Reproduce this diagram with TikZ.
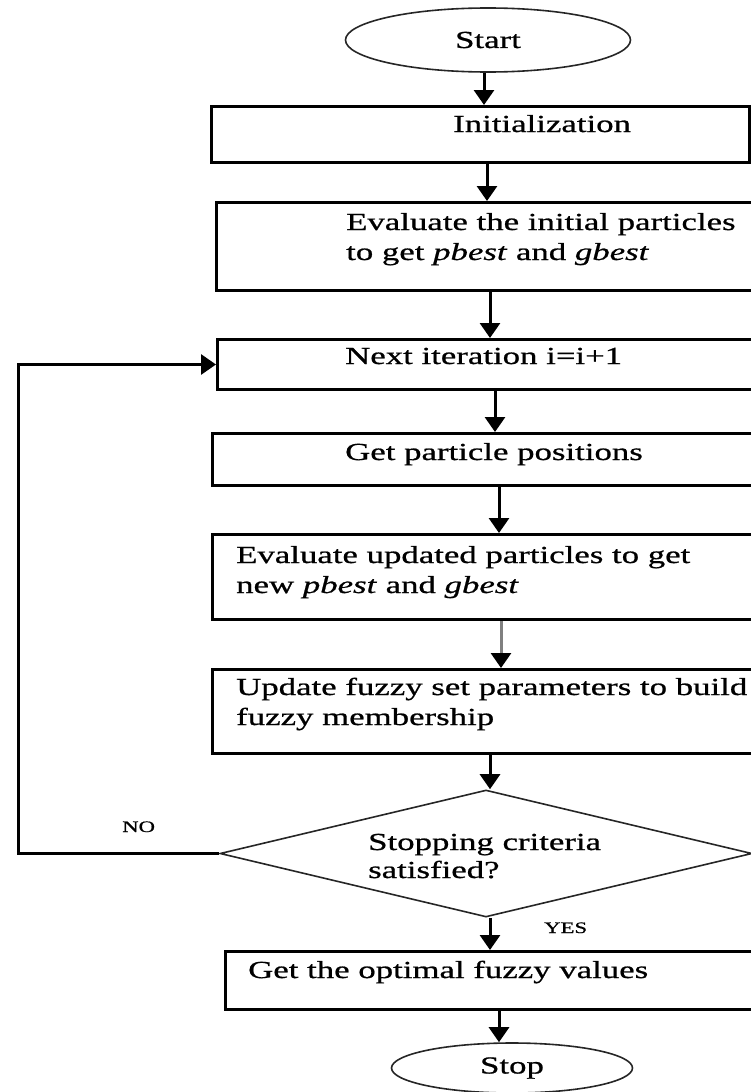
\documentclass[tikz,border=0pt]{standalone}
\usepackage{fontspec}
\setmainfont{Liberation Serif}[FakeStretch=1.42,FakeBold=0.8]
\usetikzlibrary{shapes.geometric,arrows.meta}
\tikzset{
  box/.style={draw, line width=3pt, rectangle, inner sep=0pt, anchor=north west},
  oval/.style={draw=black!85, line width=1.6pt, ellipse, inner sep=0pt, font=\fontsize{24.5}{30}\selectfont},
  dec/.style={draw=black!85, line width=1.6pt, diamond, inner sep=0pt},
  arr/.style={line width=3pt, -{Triangle[width=20pt,length=15pt]}},
  txt/.style={inner sep=0pt, anchor=base west, font=\fontsize{24.5}{30}\selectfont},
  txtd/.style={inner sep=0pt, anchor=base west, font=\fontsize{24.5}{28}\selectfont},
  lbl/.style={inner sep=0pt, anchor=base west, font=\fontsize{16}{18}\selectfont},
}
\newcommand\twoline[2]{\begin{tabular}[t]{@{}l@{}}#1\\#2\end{tabular}}
\begin{document}
\begin{tikzpicture}[x=1pt,y=-1pt]
\useasboundingbox (0,0) rectangle (751,1092);
\clip (0,0) rectangle (751,1092);
% shapes
\node[oval, minimum width=285pt, minimum height=64pt] (start) at (488,40) {Start};
\node[box, minimum width=538pt, minimum height=56pt] (init) at (210,105) {};
\node[txt] (tinit) at (453,132) {Initialization};
\node[box, minimum width=560pt, minimum height=88pt] (eval1) at (215,201) {};
\node[txt] (teval1) at (346,230) {\twoline{Evaluate the initial particles}{to get \textit{pbest} and \textit{gbest}}};
\node[box, minimum width=560pt, minimum height=50pt] (next) at (216,338) {};
\node[txt] (tnext) at (345,364) {Next iteration i=i+1};
\node[box, minimum width=565pt, minimum height=52pt] (getpos) at (211,432) {};
\node[txt] (tgetpos) at (345,460) {Get particle positions};
\node[box, minimum width=565pt, minimum height=85pt] (eval2) at (211,533) {};
\node[txt] (teval2) at (236,563) {\twoline{Evaluate updated particles to get}{new \textit{pbest} and \textit{gbest}}};
\node[box, minimum width=565pt, minimum height=84pt] (update) at (211,668) {};
\node[txt] (tupdate) at (236,695) {\twoline{Update fuzzy set parameters to build}{fuzzy membership}};
\node[dec, minimum width=532pt, minimum height=127pt] (dec) at (486,853.5) {};
\node[txtd] (tdec) at (368,850) {\twoline{Stopping criteria}{satisfied?}};
\node[lbl] (no) at (122,832) {NO};
\node[lbl] (yes) at (544,933) {YES};
\node[box, minimum width=560pt, minimum height=58pt] (opt) at (224,950) {};
\node[txt] (topt) at (248,978) {Get the optimal fuzzy values};
\node[oval, minimum width=241pt, minimum height=50pt] (stop) at (512,1068) {Stop};
% arrow columns
\coordinate (x1) at (484,0);
\coordinate (x2) at (487,0);
\coordinate (x3) at (490,0);
\coordinate (x4) at (495,0);
\coordinate (x5) at (499,0);
\coordinate (x6) at (501,0);
\coordinate (x7) at (490,0);
\coordinate (x8) at (490,0);
\coordinate (x9) at (499,0);
\coordinate (lp) at (18,853.5);
% connectors
\draw[arr] (start.south -| x1) -- (init.north -| x1);
\draw[arr] (init.south -| x2) -- (eval1.north -| x2);
\draw[arr] (eval1.south -| x3) -- (next.north -| x3);
\draw[arr] (next.south -| x4) -- (getpos.north -| x4);
\draw[arr] (getpos.south -| x5) -- (eval2.north -| x5);
\draw[arr, draw=black!50, -{Triangle[width=20pt,length=15pt,color=black]}] (eval2.south -| x6) -- (update.north -| x6);
\draw[arr] (update.south -| x7) -- (dec.north -| x7);
\draw[arr] (dec.south -| x8) -- (opt.north -| x8);
\draw[arr] (opt.south -| x9) -- (stop.north -| x9);
\draw[arr] (dec.west) -- (lp) |- (next.west);
\end{tikzpicture}
\end{document}
